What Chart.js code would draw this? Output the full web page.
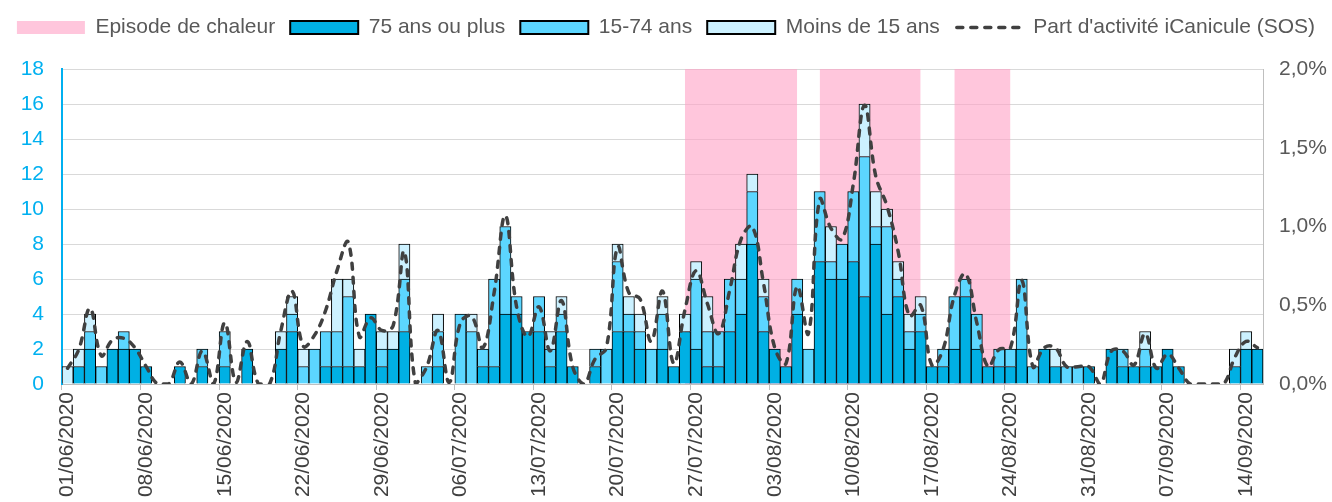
<!DOCTYPE html>
<html>
<head>
<meta charset="utf-8">
<script src="https://cdn.jsdelivr.net/npm/chart.js@4.4.1/dist/chart.umd.min.js"></script>
<style>
  html, body { margin: 0; padding: 0; background: #fff; overflow: hidden; }
  #wrap { width: 1332px; height: 502px; }
</style>
</head>
<body>
<div id="wrap"><canvas id="myChart" width="1332" height="502"></canvas></div>
<script>
// jours (categories)
const days = [
  '01/06/2020','02/06/2020','03/06/2020','04/06/2020','05/06/2020','06/06/2020','07/06/2020','08/06/2020','09/06/2020','10/06/2020',
  '11/06/2020','12/06/2020','13/06/2020','14/06/2020','15/06/2020','16/06/2020','17/06/2020','18/06/2020','19/06/2020','20/06/2020',
  '21/06/2020','22/06/2020','23/06/2020','24/06/2020','25/06/2020','26/06/2020','27/06/2020','28/06/2020','29/06/2020','30/06/2020',
  '01/07/2020','02/07/2020','03/07/2020','04/07/2020','05/07/2020','06/07/2020','07/07/2020','08/07/2020','09/07/2020','10/07/2020',
  '11/07/2020','12/07/2020','13/07/2020','14/07/2020','15/07/2020','16/07/2020','17/07/2020','18/07/2020','19/07/2020','20/07/2020',
  '21/07/2020','22/07/2020','23/07/2020','24/07/2020','25/07/2020','26/07/2020','27/07/2020','28/07/2020','29/07/2020','30/07/2020',
  '31/07/2020','01/08/2020','02/08/2020','03/08/2020','04/08/2020','05/08/2020','06/08/2020','07/08/2020','08/08/2020','09/08/2020',
  '10/08/2020','11/08/2020','12/08/2020','13/08/2020','14/08/2020','15/08/2020','16/08/2020','17/08/2020','18/08/2020','19/08/2020',
  '20/08/2020','21/08/2020','22/08/2020','23/08/2020','24/08/2020','25/08/2020','26/08/2020','27/08/2020','28/08/2020','29/08/2020',
  '30/08/2020','31/08/2020','01/09/2020','02/09/2020','03/09/2020','04/09/2020','05/09/2020','06/09/2020','07/09/2020','08/09/2020',
  '09/09/2020','10/09/2020','11/09/2020','12/09/2020','13/09/2020','14/09/2020','15/09/2020'
]

// nombre de passages par age
const age75plus = [
  0,1,2,0,2,2,2,1,0,0, 1,0,1,0,1,0,2,0,0,2, 3,0,0,1,1,1,1,4,1,2,
  3,0,0,1,0,0,0,1,1,4, 4,3,3,1,3,1,0,1,0,3, 3,2,0,2,1,3,2,1,1,3,
  4,8,3,2,1,4,0,7,6,6, 7,5,8,4,5,2,3,1,1,2, 5,2,1,1,1,2,0,2,1,0,
  0,1,0,2,1,1,1,1,2,1, 0,0,0,0,1,2,2
]
const age15to74 = [
  0,0,1,1,0,1,0,0,0,0, 0,0,1,0,2,0,0,0,0,0, 1,1,2,2,2,4,0,0,1,0,
  3,0,1,2,0,4,3,1,5,5, 1,0,2,1,1,0,0,1,2,4, 1,1,2,2,0,0,4,2,2,3,
  2,3,2,0,0,2,2,4,1,2, 4,8,1,5,1,1,1,0,1,3, 1,2,0,1,1,4,1,0,0,1,
  1,0,0,0,1,0,1,0,0,0, 0,0,0,0,0,0,0
]
const ageUnder15 = [
  1,1,1,0,0,0,0,0,0,0, 0,0,0,0,0,0,0,0,0,1, 1,1,0,0,3,1,1,0,1,1,
  2,0,0,1,0,0,1,0,0,0, 0,0,0,1,1,0,0,0,0,1, 1,1,0,1,0,1,1,2,0,0,
  2,1,1,0,0,0,0,0,2,0, 0,3,2,1,1,1,1,0,0,0, 0,0,0,0,0,0,0,0,1,0,
  0,0,0,0,0,0,1,0,0,0, 0,0,0,0,1,1,0
]
// part d'activite iCanicule SOS (%)
const partSOS = [
  0.10,0.22,0.48,0.18,0.28,0.29,0.23,0.11,0.00,0.00, 0.14,0.00,0.21,0.00,0.39,0.01,0.27,0.00,0.00,0.34,
  0.59,0.24,0.31,0.47,0.72,0.90,0.30,0.42,0.34,0.37, 0.84,0.00,0.11,0.34,0.01,0.39,0.43,0.23,0.58,1.07,
  0.49,0.30,0.49,0.21,0.53,0.11,0.00,0.16,0.23,0.87, 0.58,0.54,0.27,0.59,0.13,0.47,0.72,0.51,0.32,0.60,
  0.92,1.00,0.64,0.23,0.13,0.62,0.32,1.17,0.99,0.92, 1.27,1.77,1.32,1.13,0.84,0.43,0.50,0.12,0.22,0.56,
  0.70,0.39,0.11,0.22,0.23,0.66,0.11,0.23,0.23,0.11, 0.11,0.11,0.00,0.21,0.21,0.12,0.32,0.10,0.19,0.10,
  0.00,0.00,0.00,0.00,0.17,0.27,0.23
]
// episodes de chaleur (1 = oui)
const heatEpisode = [
  null,null,null,null,null,null,null,null,null,null, null,null,null,null,null,null,null,null,null,null,
  null,null,null,null,null,null,null,null,null,null, null,null,null,null,null,null,null,null,null,null,
  null,null,null,null,null,null,null,null,null,null, null,null,null,null,null,1,1,1,1,1,
  1,1,1,1,1,1,null,1,1,1, 1,1,1,1,1,1,1,null,null,1, 1,1,1,1,1,null,null,null,null,null,
  null,null,null,null,null,null,null,null,null,null, null,null,null,null,null,null,null
]
const leftTicks = [0, 18, 2]
const rightTicks = [0, 2, 0.5]

Chart.defaults.font.family = "'Liberation Sans', Arial, sans-serif"
Chart.defaults.font.size = 21
Chart.defaults.color = '#595959'

const lineDash = [6, 8]

// plus de place sous la legende
const legendSpace = {
  id: 'legendSpace',
  beforeInit(chart) {
    const fit = chart.legend.fit
    chart.legend.fit = function () {
      fit.bind(chart.legend)()
      this.height += 21
    }
  }
}
// trait pointille dans la legende
const dashLegend = {
  id: 'dashLegend',
  afterDraw(chart) {
    const lg = chart.legend
    const i = lg.legendItems.findIndex(it => it.datasetIndex === 4)
    const hb = lg.legendHitBoxes[i]
    if (!hb) return
    const c = chart.ctx
    const y = hb.top + hb.height / 2
    c.save()
    c.strokeStyle = '#404040'
    c.lineWidth = 3.5
    c.lineCap = 'round'
    c.setLineDash(lineDash)
    c.beginPath()
    c.moveTo(hb.left + 2, y)
    c.lineTo(hb.left + 66, y)
    c.stroke()
    c.restore()
  }
}

const ctx = document.getElementById('myChart').getContext('2d')
const myChart = new Chart(ctx, {
  type: 'bar',
  data: {
    labels: days,
    datasets: [
      {
        type: 'line',
        label: 'Episode de chaleur',
        data: heatEpisode,
        yAxisID: 'yHeat',
        fill: 'origin',
        backgroundColor: 'rgba(255,160,197,0.6)',
        borderColor: 'rgba(0,0,0,0)',
        borderWidth: 0,
        pointRadius: 0,
        spanGaps: false,
        order: 3
      },
      {
        label: '75 ans ou plus',
        data: age75plus,
        backgroundColor: '#00B0E4',
        borderColor: '#000',
        borderWidth: 1,
        barPercentage: 1,
        categoryPercentage: 1,
        order: 2
      },
      {
        label: '15-74 ans',
        data: age15to74,
        backgroundColor: '#5CD6FF',
        borderColor: '#000',
        borderWidth: 1,
        barPercentage: 1,
        categoryPercentage: 1,
        order: 2
      },
      {
        label: 'Moins de 15 ans',
        data: ageUnder15,
        backgroundColor: '#CCF1FF',
        borderColor: '#000',
        borderWidth: 1,
        barPercentage: 1,
        categoryPercentage: 1,
        order: 2
      },
      {
        type: 'line',
        label: "Part d'activité iCanicule (SOS)",
        data: partSOS,
        yAxisID: 'y2',
        borderColor: '#404040',
        borderWidth: 3.5,
        borderDash: lineDash,
        borderCapStyle: 'round',
        pointRadius: 0,
        tension: 0.4,
        fill: false,
        order: 1
      }
    ]
  },
  options: {
    responsive: false,
    animation: false,
    layout: { padding: { top: 2, left: 0, right: 0, bottom: 0 } },
    plugins: {
      tooltip: { enabled: false },
      legend: {
        position: 'top',
        labels: {
          usePointStyle: true,
          pointStyleWidth: 68,
          boxHeight: 13,
          padding: 15,
          color: '#595959',
          font: { size: 21 },
          sort: (a, b) => a.datasetIndex - b.datasetIndex,
          generateLabels(chart) {
            const items = Chart.defaults.plugins.legend.labels.generateLabels(chart)
            items.forEach(it => {
              if (it.datasetIndex === 4) {
                it.pointStyle = 'line'
                it.lineWidth = 0
              } else {
                it.pointStyle = 'rect'
                it.lineWidth = it.datasetIndex === 0 ? 0 : 2
                it.lineDash = []
              }
            })
            return items
          }
        }
      }
    },
    scales: {
      x: {
        stacked: true,
        offset: true,
        grid: {
          offset: true,
          drawOnChartArea: false,
          drawTicks: true,
          tickLength: 6,
          color: c => (c.index % 7 === 0 ? '#BFBFBF' : 'rgba(0,0,0,0)')
        },
        border: { color: '#BFBFBF', width: 1 },
        ticks: {
          autoSkip: false,
          minRotation: 90,
          maxRotation: 90,
          padding: 2,
          color: '#404040',
          callback: function (v, i) { return i % 7 === 0 ? this.getLabelForValue(v) : '' }
        },
        afterFit: s => { s.height = 118 }
      },
      y: {
        stacked: true,
        position: 'left',
        min: leftTicks[0],
        max: leftTicks[1],
        ticks: { stepSize: leftTicks[2], color: '#00B0F0', padding: 18 },
        grid: { color: '#D9D9D9', lineWidth: 1, drawTicks: false },
        border: { color: '#00B0F0', width: 2 },
        afterFit: s => { s.width = 62 }
      },
      y2: {
        position: 'right',
        min: rightTicks[0],
        max: rightTicks[1],
        ticks: {
          stepSize: rightTicks[2],
          color: '#595959',
          padding: 16,
          callback: v => v.toFixed(1).replace('.', ',') + '%'
        },
        grid: { drawOnChartArea: false, drawTicks: false },
        border: { color: '#BFBFBF', width: 1 },
        afterFit: s => { s.width = 69 }
      },
      yHeat: { display: false, min: 0, max: 1 }
    }
  },
  plugins: [legendSpace, dashLegend]
})
</script>
</body>
</html>
